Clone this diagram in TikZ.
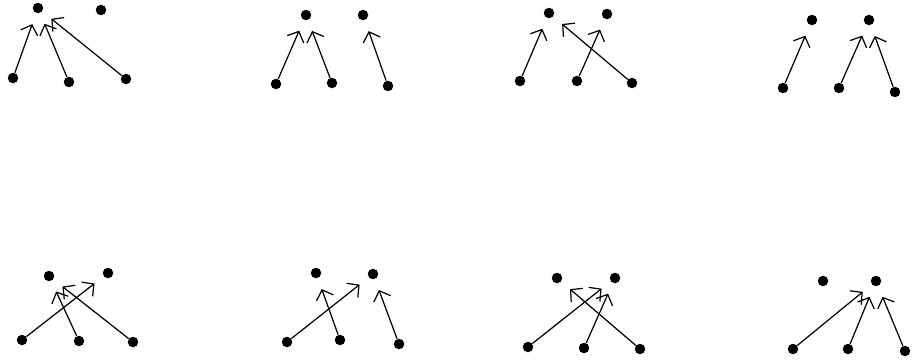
\documentclass[tikz,border=0pt]{standalone}
\usepackage{tikz}
\usetikzlibrary{arrows.meta}

\begin{document}
\begin{tikzpicture}[x=0.02cm, y=-0.02cm,
    dot/.style={circle, fill, inner sep=0pt, minimum size=2.1mm},
    edge/.style={-{Straight Barb[length=1.7mm,width=3.6mm]}, line width=0.7pt, shorten >=2.3mm}]
    \useasboundingbox (0,0) rectangle (912,362);
    % top row
    \node[dot] (a1) at (38,8) {};
    \node[dot] (a2) at (101,10) {};
    \node[dot] (a3) at (13,78) {};
    \node[dot] (a4) at (69,82) {};
    \node[dot] (a5) at (126,79) {};
    \draw[edge] (a3) -- (a1);
    \draw[edge] (a4) -- (a1);
    \draw[edge] (a5) -- (a1);

    \node[dot] (b1) at (306,15) {};
    \node[dot] (b2) at (363,15) {};
    \node[dot] (b3) at (276,84) {};
    \node[dot] (b4) at (332,83) {};
    \node[dot] (b5) at (388,86) {};
    \draw[edge] (b3) -- (b1);
    \draw[edge] (b4) -- (b1);
    \draw[edge] (b5) -- (b2);

    \node[dot] (c1) at (549,13) {};
    \node[dot] (c2) at (607,14) {};
    \node[dot] (c3) at (520,81) {};
    \node[dot] (c4) at (577,81) {};
    \node[dot] (c5) at (632,83) {};
    \draw[edge] (c3) -- (c1);
    \draw[edge] (c4) -- (c2);
    \draw[edge] (c5) -- (c1);

    \node[dot] (d1) at (812,20) {};
    \node[dot] (d2) at (869,20) {};
    \node[dot] (d3) at (783,88) {};
    \node[dot] (d4) at (839,88) {};
    \node[dot] (d5) at (895,92) {};
    \draw[edge] (d3) -- (d1);
    \draw[edge] (d4) -- (d2);
    \draw[edge] (d5) -- (d2);

    % bottom row
    \node[dot] (e1) at (49,276) {};
    \node[dot] (e2) at (108,273) {};
    \node[dot] (e3) at (22,340) {};
    \node[dot] (e4) at (79,341) {};
    \node[dot] (e5) at (133,342) {};
    \draw[edge] (e3) -- (e2);
    \draw[edge] (e4) -- (e1);
    \draw[edge] (e5) -- (e1);

    \node[dot] (f1) at (316,273) {};
    \node[dot] (f2) at (373,274) {};
    \node[dot] (f3) at (287,342) {};
    \node[dot] (f4) at (340,340) {};
    \node[dot] (f5) at (399,344) {};
    \draw[edge] (f3) -- (f2);
    \draw[edge] (f4) -- (f1);
    \draw[edge] (f5) -- (f2);

    \node[dot] (g1) at (557,278) {};
    \node[dot] (g2) at (615,278) {};
    \node[dot] (g3) at (528,347) {};
    \node[dot] (g4) at (584,348) {};
    \node[dot] (g5) at (640,349) {};
    \draw[edge] (g3) -- (g2);
    \draw[edge] (g4) -- (g2);
    \draw[edge] (g5) -- (g1);

    \node[dot] (h1) at (823,281) {};
    \node[dot] (h2) at (876,281) {};
    \node[dot] (h3) at (793,349) {};
    \node[dot] (h4) at (848,349) {};
    \node[dot] (h5) at (905,351) {};
    \draw[edge] (h3) -- (h2);
    \draw[edge] (h4) -- (h2);
    \draw[edge] (h5) -- (h2);
\end{tikzpicture}
\end{document}
